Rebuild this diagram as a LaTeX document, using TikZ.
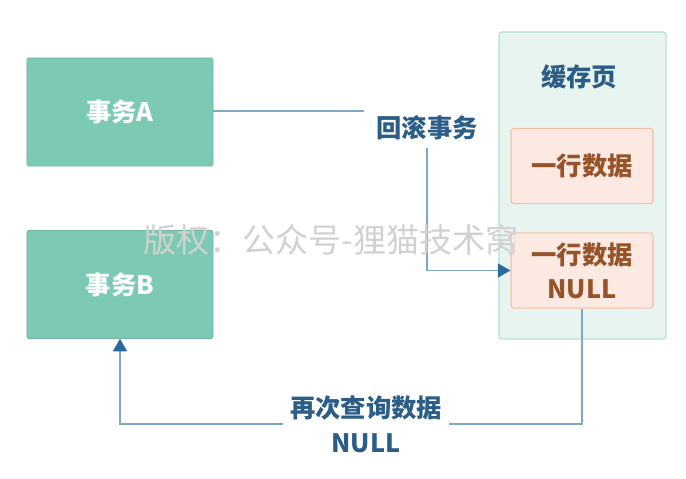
\documentclass[tikz,border=0pt]{standalone}
\usepackage{fontspec}
\newfontfamily\cjk{Noto Sans CJK SC}
\definecolor{txTeal}{RGB}{125,202,180}
\definecolor{cacheFill}{RGB}{231,244,239}
\definecolor{cacheLine}{RGB}{183,223,210}
\definecolor{rowFill}{RGB}{252,233,225}
\definecolor{rowLine}{RGB}{243,193,171}
\definecolor{rowText}{RGB}{150,82,40}
\definecolor{labelBlue}{RGB}{43,93,135}
\definecolor{linkLine}{RGB}{126,169,198}
\definecolor{tipBlue}{RGB}{42,106,155}
\usetikzlibrary{positioning,arrows.meta}

\begin{document}
\begin{tikzpicture}[x=0.025cm, y=-0.025cm,
    txbox/.style={fill=txTeal, draw=txTeal!90!black, line width=0.4pt, rounded corners=1pt,
        minimum width=4.65cm, minimum height=2.7cm, text=white, font=\cjk\bfseries\fontsize{18}{22}\selectfont},
    rowbox/.style={fill=rowFill, draw=rowLine, line width=0.8pt, rounded corners=2pt,
        minimum width=3.55cm, minimum height=1.88cm, align=center, text=rowText,
        font=\cjk\bfseries\fontsize{18}{24}\selectfont},
    linklabel/.style={text=labelBlue, align=center, inner sep=1pt, font=\cjk\bfseries\fontsize{18}{25}\selectfont},
    link/.style={draw=linkLine, line width=1.2pt},
    tip/.style={-{Triangle[length=9pt, width=10pt, color=tipBlue]}}]
    \useasboundingbox (0,0) rectangle (686,479);

    % transactions
    \node[txbox] (txA) at (120,112) {事务A};
    \node[txbox] (txB) at (120,284.5) {事务B};

    % cache page
    \node[fill=cacheFill, draw=cacheLine, line width=0.8pt, rounded corners=2pt,
        minimum width=4.175cm, minimum height=7.675cm] (cache) at (582.5,185.5) {};
    \node[text=labelBlue, font=\cjk\bfseries\fontsize{18}{22}\selectfont] (title) at (579,77) {缓存页};
    \node[rowbox] (row1) at (582,166) {一行数据};
    \node[rowbox] (row2) at (582,270.5) {一行数据\\NULL};

    % labels
    \node[linklabel] (rollback) at (427,128) {回滚事务};
    \node[linklabel] (query) at (366,424) {再次查询数据\\NULL};

    % connectors
    \coordinate (rbIn) at (364,111);
    \draw[link] (txA.east |- rbIn) -- (rbIn);
    \draw[link, tip] (rollback.south) ++(0,6) |- (row2.west);
    \coordinate (qRight) at (449,424);
    \coordinate (qLeft) at (283,424);
    \draw[link] (row2.south) |- (qRight);
    \draw[link, tip] (qLeft) -| (txB.south);

    % watermark
    \node[text=black!18, font=\cjk\fontsize{23.5}{30}\selectfont] (mark) at (331,240) {版权：公众号-狸猫技术窝};
\end{tikzpicture}
\end{document}
